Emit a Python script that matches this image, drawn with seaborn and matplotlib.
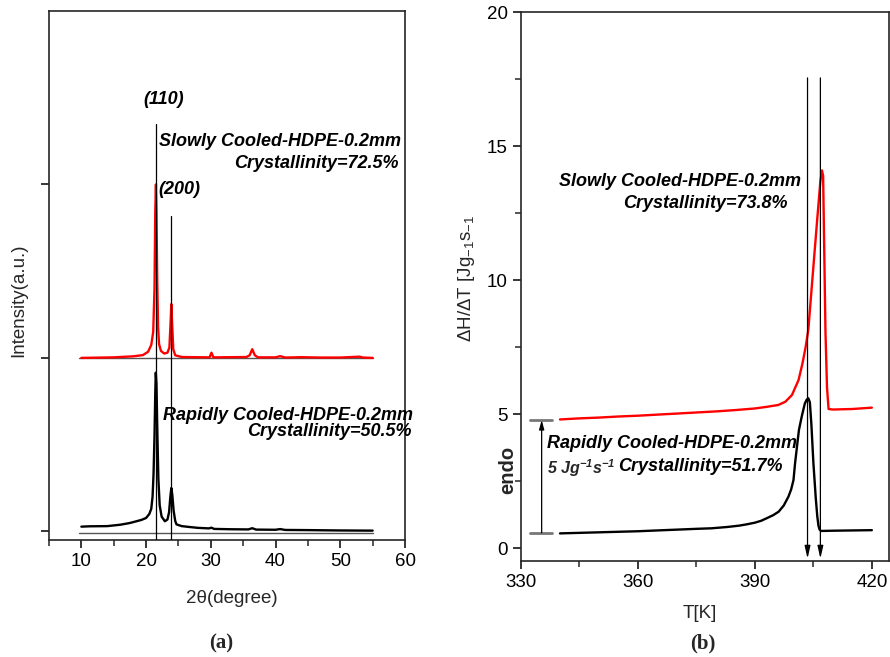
import matplotlib
matplotlib.use("Agg")
import matplotlib.pyplot as plt
import seaborn as sns
import pandas as pd

# ---------------- data: (a) XRD ----------------
xrd_rapid_x = [10, 11.3, 14, 16, 17.5, 18.5, 19.3, 20.0, 20.5, 20.8, 21.0, 21.15, 21.3, 21.42, 21.5, 21.6,
               21.75, 21.9, 22.1, 22.4, 22.9, 23.3, 23.55, 23.75, 23.9, 24.05, 24.25, 24.5, 24.7, 25.5,
               26.7, 28, 29.7, 30.1, 30.5, 33, 35.8, 36.4, 37.0, 40, 40.7, 41.5, 45, 50, 55]
xrd_rapid_y = [0.027, 0.029, 0.03, 0.038, 0.048, 0.058, 0.066, 0.077, 0.1, 0.13, 0.2, 0.33, 0.55, 0.8, 0.915, 0.85,
               0.55, 0.3, 0.15, 0.085, 0.058, 0.068, 0.11, 0.2, 0.25, 0.21, 0.12, 0.06, 0.04, 0.03,
               0.025, 0.02, 0.017, 0.021, 0.014, 0.012, 0.011, 0.018, 0.01, 0.009, 0.013, 0.008, 0.007, 0.005, 0.004]

xrd_slow_x = [10, 15, 18, 19.5, 20.3, 20.8, 21.1, 21.3, 21.42, 21.52, 21.6, 21.72, 21.85, 22.0, 22.3, 22.8,
              23.3, 23.6, 23.78, 23.9, 24.02, 24.2, 24.5, 25.5, 29.8, 30.1, 30.4, 35.5, 36.0, 36.4, 36.8,
              37.3, 40, 40.7, 41.5, 44, 47, 50, 53, 53.5, 55]
xrd_slow_y = [1.0, 1.003, 1.009, 1.016, 1.035, 1.075, 1.15, 1.4, 1.85, 2.0, 1.85, 1.45, 1.18, 1.08, 1.04, 1.025,
              1.03, 1.06, 1.2, 1.31, 1.2, 1.05, 1.015, 1.005, 1.003, 1.03, 1.003, 1.005, 1.015, 1.05, 1.015,
              1.003, 1.003, 1.01, 1.002, 1.004, 1.002, 1.002, 1.007, 1.002, 1.0]

xrd_peaks = [21.5, 23.85]          # (110), (200)
xrd_peak_tops = [2.35, 1.82]
xrd_baselines = [-0.01, 1.0]

# ---------------- data: (b) DSC ----------------
dsc_slow_T = [340, 345, 350, 355, 360, 365, 370, 375, 380, 385, 390, 393, 396, 397.8, 399.5, 401.2, 402.2,
              403.0, 403.7, 405, 406, 406.8, 407.2, 407.5, 407.8, 408.1, 408.5, 408.9, 410, 415, 420]
dsc_slow_y = [4.81, 4.85, 4.88, 4.92, 4.95, 4.99, 5.03, 5.07, 5.11, 5.16, 5.22, 5.28, 5.35, 5.47, 5.72, 6.28, 6.9,
              7.5, 8.15, 10.5, 12.3, 13.7, 14.1, 13.9, 11.0, 8.1, 6.0, 5.2, 5.18, 5.2, 5.25]

dsc_rapid_T = [340, 345, 350, 355, 360, 365, 370, 375, 378.9, 383, 386, 388, 390, 391.6, 393.1, 394.7, 396.1,
               397.4, 398.6, 399.3, 399.9, 400.3, 400.8, 401.3, 402.0, 402.8, 403.3, 403.7, 404.1, 404.5,
               405.0, 405.6, 406.0, 406.3, 406.6, 407.0, 410, 415, 420]
dsc_rapid_y = [0.56, 0.58, 0.6, 0.62, 0.64, 0.67, 0.7, 0.73, 0.75, 0.8, 0.85, 0.9, 0.96, 1.03, 1.13, 1.24, 1.37,
               1.6, 1.93, 2.2, 2.55, 3.17, 3.8, 4.42, 4.91, 5.4, 5.55, 5.6, 5.45, 4.6,
               3.2, 1.9, 1.2, 0.85, 0.7, 0.65, 0.66, 0.67, 0.68]

dsc_peaks = [403.5, 406.8]
endo_levels = [0.58, 4.79]

# ---------------- style ----------------
sns.set_theme(style="ticks")
plt.rcParams['font.family'] = ['Liberation Sans', 'DejaVu Sans']
plt.rcParams['mathtext.fontset'] = 'custom'
plt.rcParams['mathtext.rm'] = 'Liberation Sans'
plt.rcParams['mathtext.it'] = 'Liberation Sans:italic'
plt.rcParams['mathtext.bf'] = 'Liberation Sans:bold:italic'
plt.rcParams['axes.linewidth'] = 1.2
plt.rcParams['xtick.direction'] = 'out'
plt.rcParams['ytick.direction'] = 'out'

fig = plt.figure(figsize=(8.9, 6.57), dpi=100)
ax1 = fig.add_axes([49/890, 1-540/657, 356/890, 529/657])
ax2 = fig.add_axes([521/890, 1-561/657, 368/890, 549.3/657])

ann = dict(fontsize=13, fontweight='bold', fontstyle='italic', color='black')
TICK_FS = 13.5
LAB_FS = 13.5

# ---------- (a) ----------
df_r = pd.DataFrame({'x': xrd_rapid_x, 'y': xrd_rapid_y})
df_s = pd.DataFrame({'x': xrd_slow_x, 'y': xrd_slow_y})
for b in xrd_baselines:
    ax1.plot([9.7, 55], [b, b], color='#555555', lw=1.0, zorder=1)
sns.lineplot(data=df_r, x='x', y='y', ax=ax1, color='black', lw=1.7, estimator=None, sort=False, zorder=2)
sns.lineplot(data=df_s, x='x', y='y', ax=ax1, color='#ff0000', lw=1.7, estimator=None, sort=False, zorder=2)
for xp, top in zip(xrd_peaks, xrd_peak_tops):
    ax1.plot([xp, xp], [-0.05, top], color='black', lw=0.9, zorder=3)

ax1.set_xlim(5, 60)
ax1.set_ylim(-0.05, 3.0)
ax1.set_xticks([10, 20, 30, 40, 50, 60])
ax1.set_xticks([5, 15, 25, 35, 45, 55], minor=True)
ax1.set_yticks([0, 1, 2])
ax1.set_yticklabels([])
ax1.tick_params(axis='both', which='major', length=6, width=1.1, labelsize=TICK_FS, colors='black')
ax1.tick_params(axis='x', which='minor', length=4, width=1.1)
ax1.set_xlabel('2θ(degree)', fontsize=LAB_FS)
ax1.set_ylabel('Intensity(a.u.)', fontsize=LAB_FS)
ax1.xaxis.set_label_coords(0.513, -0.095)
ax1.yaxis.set_label_coords(-0.062, 0.454)

ax1.text(22.7, 2.49, '(110)', ha='center', va='center', **ann)
ax1.text(25.2, 1.97, '(200)', ha='center', va='center', **ann)
ax1.text(59.4, 2.25, 'Slowly Cooled-HDPE-0.2mm', ha='right', va='center', **ann)
ax1.text(59.0, 2.12, 'Crystallinity=72.5%', ha='right', va='center', **ann)
ax1.text(61.2, 0.67, 'Rapidly Cooled-HDPE-0.2mm', ha='right', va='center', **ann)
ax1.text(61.0, 0.576, 'Crystallinity=50.5%', ha='right', va='center', **ann)

# ---------- (b) ----------
df_ds = pd.DataFrame({'T': dsc_slow_T, 'y': dsc_slow_y})
df_dr = pd.DataFrame({'T': dsc_rapid_T, 'y': dsc_rapid_y})
sns.lineplot(data=df_ds, x='T', y='y', ax=ax2, color='#ff0000', lw=1.7, estimator=None, sort=False)
sns.lineplot(data=df_dr, x='T', y='y', ax=ax2, color='black', lw=1.7, estimator=None, sort=False)

for xp in dsc_peaks:
    ax2.annotate('', xy=(xp, -0.38), xytext=(xp, 17.55),
                 arrowprops=dict(arrowstyle='-|>,head_length=0.75,head_width=0.17', color='black',
                                 lw=0.9, shrinkA=0, shrinkB=0, mutation_scale=10))
ax2.annotate('', xy=(335.3, endo_levels[1]), xytext=(335.3, endo_levels[0]),
             arrowprops=dict(arrowstyle='-|>,head_length=0.55,head_width=0.15', color='black',
                             lw=0.9, shrinkA=0, shrinkB=0, mutation_scale=10))
for lv in endo_levels:
    ax2.plot([332.3, 337.9], [lv, lv], color='#777777', lw=2.0)

ax2.set_xlim(330, 424.4)
ax2.set_ylim(-0.47, 20.02)
ax2.set_xticks([330, 360, 390, 420])
ax2.set_xticks([345, 375, 405], minor=True)
ax2.set_yticks([0, 5, 10, 15, 20])
ax2.set_yticks([2.5, 7.5, 12.5, 17.5], minor=True)
ax2.tick_params(axis='both', which='major', length=6, width=1.1, labelsize=TICK_FS, colors='black')
ax2.tick_params(axis='both', which='minor', length=4, width=1.1)
ax2.set_xlabel('T[K]', fontsize=LAB_FS)
ax2.set_ylabel(r'ΔH/ΔT [Jg$_{\mathregular{-1}}$s$_{\mathregular{-1}}$', fontsize=LAB_FS)
ax2.xaxis.set_label_coords(0.485, -0.08)
ax2.yaxis.set_label_coords(-0.12, 0.515)

ax2.text(401.85, 13.68, 'Slowly Cooled-HDPE-0.2mm', ha='right', va='center', **ann)
ax2.text(398.3, 12.85, 'Crystallinity=73.8%', ha='right', va='center', **ann)
ax2.text(336.6, 3.92, 'Rapidly Cooled-HDPE-0.2mm', ha='left', va='center', **ann)
ax2.text(336.6, 3.0, r'$\mathbf{5\ Jg^{-1}s^{-1}}$', ha='left', va='center', fontsize=11.5)
ax2.text(355.0, 3.05, 'Crystallinity=51.7%', ha='left', va='center', **ann)

fig.text(508/890, 1-470/657, 'endo', rotation=90, ha='center', va='center',
         fontsize=14.5, fontweight='bold')
fig.text(220.7/890, 1-643/657, '(a)', ha='center', va='center', fontsize=15,
         fontweight='bold', fontfamily=['Liberation Serif', 'DejaVu Serif'])
fig.text(702.7/890, 1-643/657, '(b)', ha='center', va='center', fontsize=15,
         fontweight='bold', fontfamily=['Liberation Serif', 'DejaVu Serif'])

fig.savefig('out.png', dpi=100)
